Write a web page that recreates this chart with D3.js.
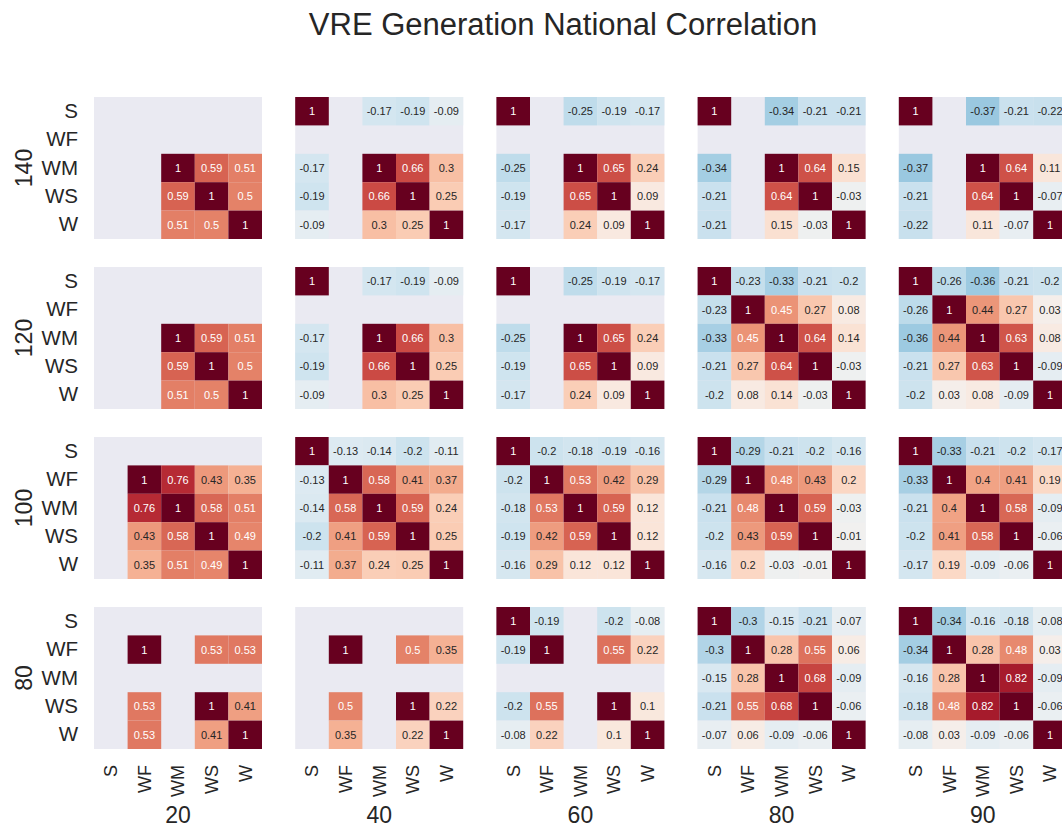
<!DOCTYPE html>
<html>
<head>
<meta charset="utf-8">
<script src="https://cdn.jsdelivr.net/npm/d3@7"></script>
<style>
  html, body { margin: 0; padding: 0; background: #fff; }
  svg { display: block; font-family: Arial, "Liberation Sans", sans-serif; }
</style>
</head>
<body>
<svg id="chart" width="1062" height="831"></svg>
<script>
// ---- data ----
const title = "VRE Generation National Correlation";
const categories = ["S", "WF", "WM", "WS", "W"];
const rowGroups = ["140", "120", "100", "80"];
const colGroups = ["20", "40", "60", "80", "90"];
const _ = null;

// row 140
const m140_20 = [[_,_,_,_,_],[_,_,_,_,_],[_,_,1,0.59,0.51],[_,_,0.59,1,0.5],[_,_,0.51,0.5,1]];
const m140_40 = [[1,_,-0.17,-0.19,-0.09],[_,_,_,_,_],[-0.17,_,1,0.66,0.3],[-0.19,_,0.66,1,0.25],[-0.09,_,0.3,0.25,1]];
const m140_60 = [[1,_,-0.25,-0.19,-0.17],[_,_,_,_,_],[-0.25,_,1,0.65,0.24],[-0.19,_,0.65,1,0.09],[-0.17,_,0.24,0.09,1]];
const m140_80 = [[1,_,-0.34,-0.21,-0.21],[_,_,_,_,_],[-0.34,_,1,0.64,0.15],[-0.21,_,0.64,1,-0.03],[-0.21,_,0.15,-0.03,1]];
const m140_90 = [[1,_,-0.37,-0.21,-0.22],[_,_,_,_,_],[-0.37,_,1,0.64,0.11],[-0.21,_,0.64,1,-0.07],[-0.22,_,0.11,-0.07,1]];
// row 120
const m120_20 = [[_,_,_,_,_],[_,_,_,_,_],[_,_,1,0.59,0.51],[_,_,0.59,1,0.5],[_,_,0.51,0.5,1]];
const m120_40 = [[1,_,-0.17,-0.19,-0.09],[_,_,_,_,_],[-0.17,_,1,0.66,0.3],[-0.19,_,0.66,1,0.25],[-0.09,_,0.3,0.25,1]];
const m120_60 = [[1,_,-0.25,-0.19,-0.17],[_,_,_,_,_],[-0.25,_,1,0.65,0.24],[-0.19,_,0.65,1,0.09],[-0.17,_,0.24,0.09,1]];
const m120_80 = [[1,-0.23,-0.33,-0.21,-0.2],[-0.23,1,0.45,0.27,0.08],[-0.33,0.45,1,0.64,0.14],[-0.21,0.27,0.64,1,-0.03],[-0.2,0.08,0.14,-0.03,1]];
const m120_90 = [[1,-0.26,-0.36,-0.21,-0.2],[-0.26,1,0.44,0.27,0.03],[-0.36,0.44,1,0.63,0.08],[-0.21,0.27,0.63,1,-0.09],[-0.2,0.03,0.08,-0.09,1]];
// row 100
const m100_20 = [[_,_,_,_,_],[_,1,0.76,0.43,0.35],[_,0.76,1,0.58,0.51],[_,0.43,0.58,1,0.49],[_,0.35,0.51,0.49,1]];
const m100_40 = [[1,-0.13,-0.14,-0.2,-0.11],[-0.13,1,0.58,0.41,0.37],[-0.14,0.58,1,0.59,0.24],[-0.2,0.41,0.59,1,0.25],[-0.11,0.37,0.24,0.25,1]];
const m100_60 = [[1,-0.2,-0.18,-0.19,-0.16],[-0.2,1,0.53,0.42,0.29],[-0.18,0.53,1,0.59,0.12],[-0.19,0.42,0.59,1,0.12],[-0.16,0.29,0.12,0.12,1]];
const m100_80 = [[1,-0.29,-0.21,-0.2,-0.16],[-0.29,1,0.48,0.43,0.2],[-0.21,0.48,1,0.59,-0.03],[-0.2,0.43,0.59,1,-0.01],[-0.16,0.2,-0.03,-0.01,1]];
const m100_90 = [[1,-0.33,-0.21,-0.2,-0.17],[-0.33,1,0.4,0.41,0.19],[-0.21,0.4,1,0.58,-0.09],[-0.2,0.41,0.58,1,-0.06],[-0.17,0.19,-0.09,-0.06,1]];
// row 80
const m80_20 = [[_,_,_,_,_],[_,1,_,0.53,0.53],[_,_,_,_,_],[_,0.53,_,1,0.41],[_,0.53,_,0.41,1]];
const m80_40 = [[_,_,_,_,_],[_,1,_,0.5,0.35],[_,_,_,_,_],[_,0.5,_,1,0.22],[_,0.35,_,0.22,1]];
const m80_60 = [[1,-0.19,_,-0.2,-0.08],[-0.19,1,_,0.55,0.22],[_,_,_,_,_],[-0.2,0.55,_,1,0.1],[-0.08,0.22,_,0.1,1]];
const m80_80 = [[1,-0.3,-0.15,-0.21,-0.07],[-0.3,1,0.28,0.55,0.06],[-0.15,0.28,1,0.68,-0.09],[-0.21,0.55,0.68,1,-0.06],[-0.07,0.06,-0.09,-0.06,1]];
const m80_90 = [[1,-0.34,-0.16,-0.18,-0.08],[-0.34,1,0.28,0.48,0.03],[-0.16,0.28,1,0.82,-0.09],[-0.18,0.48,0.82,1,-0.06],[-0.08,0.03,-0.09,-0.06,1]];

const matrices = [
  [m140_20, m140_40, m140_60, m140_80, m140_90],
  [m120_20, m120_40, m120_60, m120_80, m120_90],
  [m100_20, m100_40, m100_60, m100_80, m100_90],
  [m80_20,  m80_40,  m80_60,  m80_80,  m80_90]
];

// ---- layout ----
const panelW = 168, panelH = 142;
const x0 = 94, colStep = 201.2;
const y0 = 97, rowStep = 170;

const svg = d3.select("#chart");
const color = d3.scaleSequential(t => d3.interpolateRdBu(1 - t)).domain([-1, 1]);

function relLum(c) {
  const rgb = d3.rgb(c);
  const f = v => { v /= 255; return v <= 0.03928 ? v / 12.92 : Math.pow((v + 0.055) / 1.055, 2.4); };
  return 0.2126 * f(rgb.r) + 0.7152 * f(rgb.g) + 0.0722 * f(rgb.b);
}

svg.append("text")
  .attr("x", 563).attr("y", 35)
  .attr("text-anchor", "middle")
  .attr("font-size", 31)
  .attr("fill", "#262626")
  .text(title);

const xBand = d3.scaleBand().domain(categories).range([0, panelW]);
const yBand = d3.scaleBand().domain(categories).range([0, panelH]);

rowGroups.forEach((rg, ri) => {
  colGroups.forEach((cg, ci) => {
    const g = svg.append("g")
      .attr("transform", `translate(${x0 + ci * colStep},${y0 + ri * rowStep})`);
    g.append("rect")
      .attr("width", panelW).attr("height", panelH)
      .attr("fill", "#EAEAF2");
    const cells = [];
    matrices[ri][ci].forEach((row, i) => row.forEach((v, j) => {
      if (v !== null) cells.push({ r: categories[i], c: categories[j], v });
    }));
    g.selectAll("rect.cell").data(cells).join("rect")
      .attr("class", "cell")
      .attr("x", d => xBand(d.c)).attr("y", d => yBand(d.r))
      .attr("width", xBand.bandwidth()).attr("height", yBand.bandwidth())
      .attr("fill", d => color(d.v));
    g.selectAll("text.ann").data(cells).join("text")
      .attr("class", "ann")
      .attr("x", d => xBand(d.c) + xBand.bandwidth() / 2)
      .attr("y", d => yBand(d.r) + yBand.bandwidth() / 2)
      .attr("dy", "0.36em")
      .attr("text-anchor", "middle")
      .attr("font-size", 11)
      .attr("fill", d => relLum(color(d.v)) > 0.408 ? "#262626" : "#ffffff")
      .text(d => String(d.v));

    if (ci === 0) {
      const ay = d3.axisLeft(yBand).tickSize(0).tickPadding(16);
      const ga = g.append("g").call(ay);
      ga.select(".domain").remove();
      ga.selectAll("text").attr("font-size", 20.5).attr("fill", "#262626")
        .attr("font-family", "Arial, 'Liberation Sans', sans-serif");
      g.append("text")
        .attr("transform", `translate(-62,${panelH / 2}) rotate(-90)`)
        .attr("text-anchor", "middle")
        .attr("font-size", 23)
        .attr("fill", "#262626")
        .text(rg);
    }
    if (ri === rowGroups.length - 1) {
      const ax = d3.axisBottom(xBand).tickSize(0).tickPadding(0);
      const ga = g.append("g").attr("transform", `translate(0,${panelH})`).call(ax);
      ga.select(".domain").remove();
      ga.selectAll("text")
        .attr("font-size", 18).attr("fill", "#262626")
        .attr("font-family", "Arial, 'Liberation Sans', sans-serif")
        .attr("y", 0).attr("dy", "0.36em")
        .attr("transform", "translate(0,16) rotate(-90)")
        .attr("text-anchor", "end");
      g.append("text")
        .attr("x", panelW / 2).attr("y", panelH + 74)
        .attr("text-anchor", "middle")
        .attr("font-size", 23)
        .attr("fill", "#262626")
        .text(cg);
    }
  });
});
</script>
</body>
</html>
